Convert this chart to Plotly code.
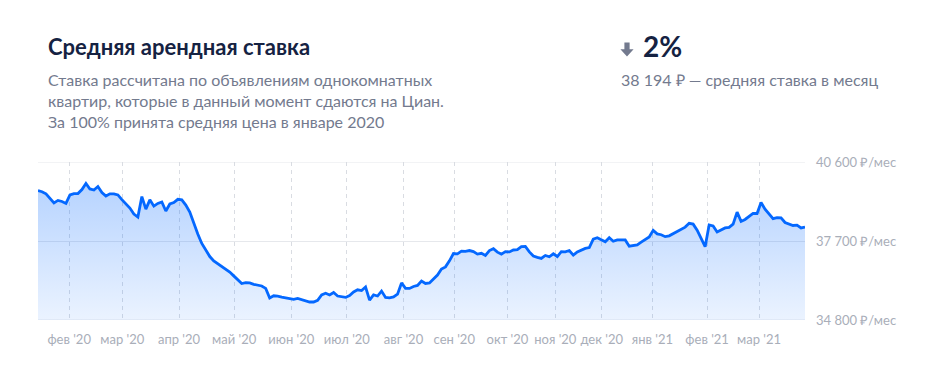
import plotly.graph_objects as go

# ---- data (rent index, ₽/month), one value per observation ----
rent_values = [
    39550, 39510, 39430, 39280, 39100, 39190, 39150, 39080, 39390, 39440,
    39440, 39590, 39810, 39610, 39570, 39700, 39480, 39350, 39430, 39430,
    39390, 39220, 39080, 38910, 38690, 38580, 39330, 38870, 39210, 38980,
    39080, 39130, 38800, 39060, 39110, 39230, 39210, 39020, 38760, 38320,
    37960, 37610, 37350, 37130, 36970, 36870, 36750, 36670, 36560, 36420,
    36290, 36140, 36170, 36160, 36110, 36080, 36050, 35960, 35610, 35690,
    35680, 35640, 35610, 35590, 35560, 35590, 35550, 35500, 35460, 35460,
    35520, 35720, 35780, 35720, 35810, 35680, 35650, 35630, 35700, 35830,
    35910, 35880, 36010, 35530, 35720, 35680, 35860, 35630, 35610, 35650,
    35750, 36160, 35960, 35960, 36030, 36070, 36230, 36140, 36160, 36310,
    36450, 36670, 36750, 36970, 37240, 37230, 37330, 37320, 37350, 37310,
    37220, 37250, 37170, 37350, 37420, 37290, 37220, 37310, 37300, 37370,
    37380, 37490, 37500, 37300, 37150, 37100, 37060, 37170, 37120, 37230,
    37130, 37310, 37300, 37350, 37180, 37300, 37370, 37430, 37460, 37770,
    37820, 37740, 37670, 37820, 37690, 37740, 37730, 37740, 37510, 37530,
    37560, 37660, 37740, 37850, 38090, 37960, 37930, 37860, 37890, 37970,
    38030, 38140, 38210, 38350, 38320, 38100, 37800, 37490, 38290, 38250,
    38030, 38110, 38180, 38200, 38320, 38760, 38420, 38490, 38610, 38710,
    38710, 39110, 38870, 38710, 38520, 38560, 38550, 38380, 38310, 38270,
    38280, 38180, 38210,
]
obs_index = list(range(len(rent_values)))

month_tick_pos = [7.8, 21.1, 35.3, 49.1, 63.4, 77.3, 91.5, 104.2, 117.5,
                  129.5, 141.1, 153.8, 167.5, 180.5]
month_tick_labels = ["фев '20", "мар '20", "апр '20", "май '20", "июн '20",
                     "июл '20", "авг '20", "сен '20", "окт '20", "ноя '20",
                     "дек '20", "янв '21", "фев '21", "мар '21"]

y_tick_vals = [34800, 37700, 40600]
y_tick_labels = ["34 800 ₽/мес", "37 700 ₽/мес", "40 600 ₽/мес"]

title_text = "Средняя арендная ставка"
subtitle_lines = ["Ставка рассчитана по объявлениям однокомнатных",
                  "квартир, которые в данный момент сдаются на Циан.",
                  "За 100% принята средняя цена в январе 2020"]
change_text = "2%"
current_text = "38 194 ₽ — средняя ставка в месяц"

# ---- layout geometry (pixels) ----
W, H = 925, 373
L, R, T, B = 38, 120, 162, 53
PW, PH = W - L - R, H - T - B


def px(x):
    return (x - L) / PW


def py(y):
    return (H - B - y) / PH


FONT = "Lato, 'Open Sans', sans-serif"
DARK = "#152242"
GREY = "#737a8e"
AXIS_GREY = "#a9aeb9"
BLUE = "#0468ff"
HGRID = "#e6e8ec"
VGRID = "#d9dce2"

fig = go.Figure()
fig.add_trace(go.Scatter(
    x=obs_index, y=rent_values, mode="lines",
    line=dict(color=BLUE, width=2.8),
    fill="tozeroy",
    fillgradient=dict(type="vertical", start=34800, stop=39800,
                      colorscale=[[0, "rgba(4,104,255,0.08)"],
                                  [1, "rgba(4,104,255,0.29)"]]),
    hoverinfo="skip", showlegend=False,
))

annotations = [
    dict(text="<b>" + title_text + "</b>", x=px(46), y=py(47), xanchor="left",
         yanchor="middle", font=dict(family=FONT, size=22, color=DARK)),
    dict(text="<b>" + change_text + "</b>", x=px(641), y=py(46), xanchor="left",
         yanchor="middle", font=dict(family=FONT, size=28, color=DARK)),
    dict(text=current_text, x=px(619), y=py(79), xanchor="left",
         yanchor="middle", font=dict(family=FONT, size=16, color=GREY)),
]
for i, line in enumerate(subtitle_lines):
    annotations.append(dict(text=line, x=px(46), y=py(79 + 21.3 * i),
                            xanchor="left", yanchor="middle",
                            font=dict(family=FONT, size=16, color=GREY)))
for a in annotations:
    a.update(xref="paper", yref="paper", showarrow=False)

# down-arrow icon
arrow_pts = [(624.4, 42.5), (629.6, 42.5), (629.6, 49.3), (633.6, 49.3),
             (627, 56.5), (620.4, 49.3), (624.4, 49.3)]
path = "M " + " L ".join(f"{px(a):.5f},{py(b):.5f}" for a, b in arrow_pts) + " Z"
shapes = [dict(type="path", path=path, xref="paper", yref="paper",
               fillcolor=GREY, line=dict(width=0))]
# horizontal grid lines at the range edges (plotly omits them)
for v in (y_tick_vals[0], y_tick_vals[-1]):
    shapes.append(dict(type="line", xref="paper", yref="y", x0=0, x1=1,
                       y0=v, y1=v, layer="below",
                       line=dict(color=HGRID, width=1)))

fig.update_layout(
    width=W, height=H, autosize=False,
    margin=dict(l=L, r=R, t=T, b=B, pad=0),
    paper_bgcolor="white", plot_bgcolor="white",
    font=dict(family=FONT),
    annotations=annotations, shapes=shapes,
    xaxis=dict(range=[0, len(rent_values) - 1], tickvals=month_tick_pos,
               ticktext=month_tick_labels, showgrid=True, griddash="4px,4px",
               gridcolor=VGRID, gridwidth=1, zeroline=False,
               showline=False, ticks="", ticklabelstandoff=10,
               tickfont=dict(family=FONT, size=13, color=AXIS_GREY),
               fixedrange=True),
    yaxis=dict(range=[34800, 40600], tickvals=y_tick_vals,
               ticktext=y_tick_labels, side="right", showgrid=True,
               gridcolor=HGRID, gridwidth=1, zeroline=False,
               showline=False, ticks="", ticklabelstandoff=10,
               tickfont=dict(family=FONT, size=13, color=AXIS_GREY),
               fixedrange=True),
)

fig.write_html("out.html", config={"displayModeBar": False})
